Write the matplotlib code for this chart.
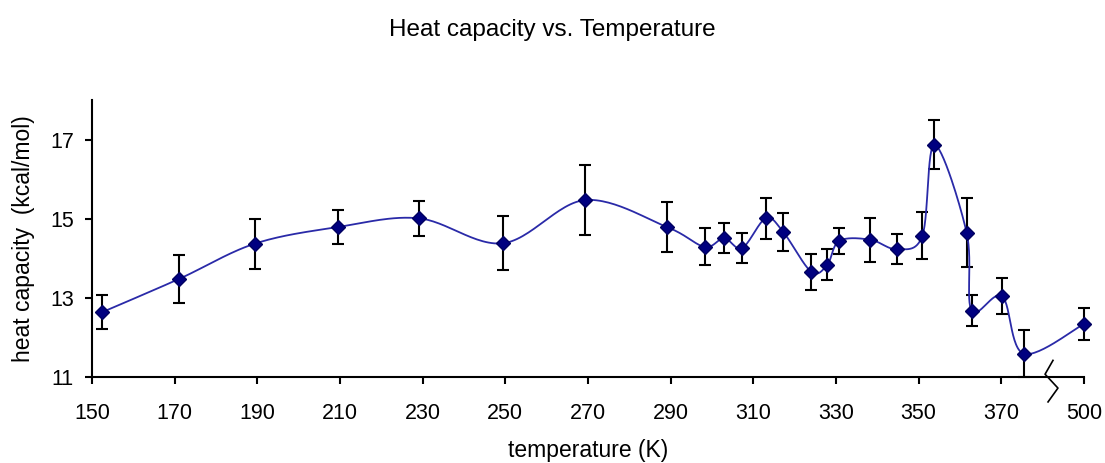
import matplotlib
matplotlib.use('Agg')
import matplotlib.pyplot as plt
import numpy as np

# temperatures (K); the last one sits past the axis break
temperature = [152.5, 171.1, 189.4, 209.5, 229.1, 249.4, 269.2, 289.1, 298.2, 302.9,
               307.3, 313.0, 317.2, 324.0, 327.9, 330.8, 338.3, 344.7, 350.9, 353.8,
               361.6, 362.8, 370.2, 375.4, 500.0]
heat_capacity = [12.64, 13.48, 14.37, 14.79, 15.01, 14.38, 15.47, 14.79, 14.29, 14.51,
                 14.26, 15.01, 14.67, 13.66, 13.84, 14.44, 14.47, 14.23, 14.57, 16.87,
                 14.65, 12.68, 13.04, 11.59, 12.34]
error = [0.42, 0.60, 0.63, 0.44, 0.45, 0.68, 0.88, 0.63, 0.47, 0.37,
         0.37, 0.51, 0.48, 0.45, 0.40, 0.32, 0.56, 0.38, 0.60, 0.62,
         0.88, 0.39, 0.46, 0.59, 0.41]

tick_values = [150, 170, 190, 210, 230, 250, 270, 290, 310, 330, 350, 370]
break_label = '500'
BREAK_POS = 390  # where T=500 is drawn on the broken axis

plt.rcParams['font.family'] = ['Liberation Sans', 'DejaVu Sans']


def plot_x(t):
    return BREAK_POS if t > 400 else t


def smooth(x, y, n=30):
    """Excel-style smoothed line: cubic Bezier, Catmull-Rom control points."""
    x = np.asarray(x, float)
    y = np.asarray(y, float)
    pts = np.column_stack([x, y])
    out = [pts[0]]
    for i in range(len(pts) - 1):
        p0 = pts[i - 1] if i > 0 else pts[i]
        p1, p2 = pts[i], pts[i + 1]
        p3 = pts[i + 2] if i + 2 < len(pts) else pts[i + 1]
        c1 = p1 + (p2 - p0) / 6
        c2 = p2 - (p3 - p1) / 6
        t = np.linspace(0, 1, n)[1:, None]
        seg = (1 - t) ** 3 * p1 + 3 * (1 - t) ** 2 * t * c1 + 3 * (1 - t) * t ** 2 * c2 + t ** 3 * p2
        out.extend(seg)
    out = np.array(out)
    return out[:, 0], out[:, 1]


xs = [plot_x(t) for t in temperature]

fig = plt.figure(figsize=(11.05, 4.63), dpi=100)
ax = fig.add_axes([92 / 1105, 1 - 377 / 463, (1084 - 92) / 1105, (377 - 100) / 463])

eb = ax.errorbar(xs, heat_capacity, yerr=error, fmt='none', ecolor='black',
                 elinewidth=1.5, capsize=4.5, capthick=1.5, zorder=2)
for art in eb.lines[1] + eb.lines[2]:
    art.set_clip_on(False)
sx, sy = smooth(xs, heat_capacity)
ax.plot(sx, sy, color='#2a2aa8', lw=1.3, zorder=3)
ax.plot(xs, heat_capacity, ls='none', marker='D', ms=7, color='#000080',
        mec='#000060', zorder=4, clip_on=False)

ax.set_xlim(150, BREAK_POS)
ax.set_ylim(11, 18)
ax.set_xticks(tick_values + [BREAK_POS])
ax.set_xticklabels([str(v) for v in tick_values] + [break_label])
ax.set_yticks([11, 13, 15, 17])

for s in ['top', 'right']:
    ax.spines[s].set_visible(False)
for s in ['left', 'bottom']:
    ax.spines[s].set_linewidth(1.5)
ax.tick_params(axis='both', direction='out', width=1.5, labelsize=15.5, colors='black')
ax.tick_params(axis='x', length=5, pad=14)
ax.tick_params(axis='y', length=5, pad=8)

# axis break mark
bx = (1052 - 92) / (1084 - 92)
ax.plot([bx + 0.001, bx - 0.007, bx + 0.006, bx - 0.004],
        [0.06, 0.01, -0.04, -0.09], transform=ax.transAxes,
        color='black', lw=1.2, clip_on=False, zorder=5)

ax.set_xlabel('temperature (K)', fontsize=16.5)
ax.xaxis.set_label_coords(0.5, -(451 - 377) / 277)
ax.xaxis.label.set_va('center')
ax.set_ylabel('heat capacity  (kcal/mol)', fontsize=16.5, labelpad=11)
fig.suptitle('Heat capacity vs. Temperature', fontsize=17.5, y=0.958)

fig.savefig('out.png', dpi=100)
